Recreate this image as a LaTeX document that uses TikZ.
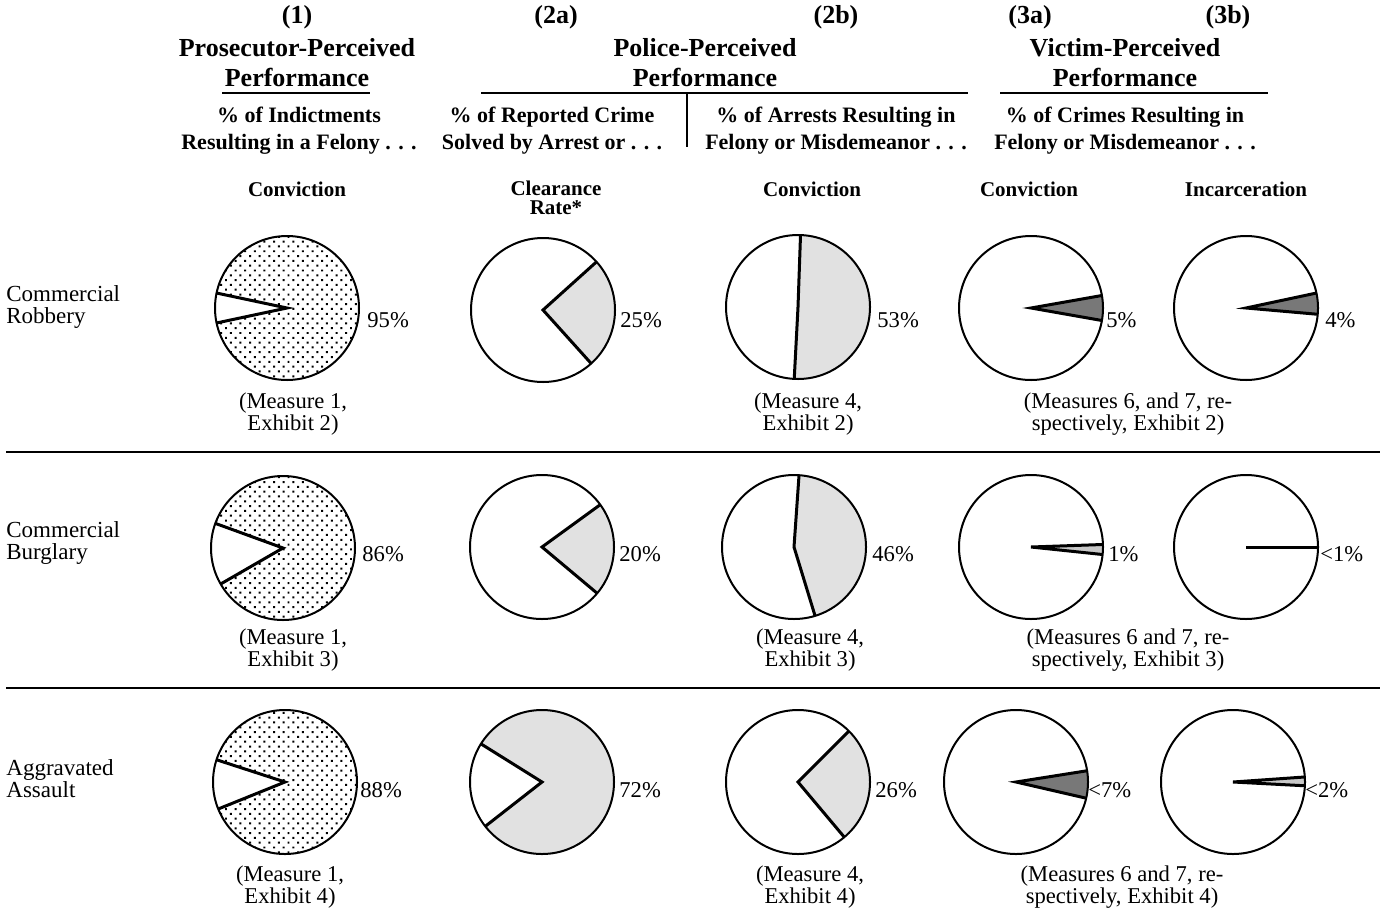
\documentclass[tikz,border=0pt]{standalone}
\usepackage{fontspec}
\setmainfont{Liberation Serif}
\usetikzlibrary{patterns.meta}
\definecolor{lStip}{RGB}{225,225,225}
\definecolor{dStip}{RGB}{120,120,120}
\definecolor{pStip}{RGB}{200,200,200}

% pie: centre, start angle, end angle, wedge fill, rest fill
\newcommand{\pie}[5]{%
  \fill[#5] (#1) circle (72);
  \fill[#4] (#1) -- ++(#2:72) arc[start angle=#2, end angle=#3, radius=72] -- cycle;
  \draw[EDGE] (#1) ++(#2:72) -- (#1) -- ++(#3:72);
  \draw[RIM] (#1) circle (72);
}

\begin{document}
\begin{tikzpicture}[x=0.5pt, y=0.5pt,
    HEAD/.style={font=\fontsize{13}{15}\selectfont\bfseries, align=center, inner sep=0pt},
    SUB/.style={font=\fontsize{11}{13.5}\selectfont\bfseries, align=center, inner sep=0pt},
    COL/.style={font=\fontsize{10.5}{9.5}\selectfont\bfseries, align=center, inner sep=0pt},
    ROW/.style={font=\fontsize{11.5}{11}\selectfont, align=left, anchor=west, inner sep=0pt},
    CAP/.style={font=\fontsize{11.3}{10.2}\selectfont, align=center, inner sep=0pt},
    PCT/.style={font=\fontsize{11.3}{13}\selectfont, anchor=west, inner sep=0pt},
    RULE/.style={line width=0.8pt},
    RIM/.style={line width=1pt},
    EDGE/.style={line width=1.5pt, line join=miter},
    DOTS/.style={pattern={Dots[distance=3.4pt, angle=45, radius=0.7pt]}, pattern color=black},
    WHITE/.style={fill=white},
    NONE/.style={fill=none},
    LIGHT/.style={fill=lStip},
    DARK/.style={fill=dStip},
    PALE/.style={fill=pStip}]
\useasboundingbox (0,0) rectangle (1380,-910);

% column headings
\node[HEAD] (n1)  at (297,-17)  {(1)};
\node[HEAD] (n2a) at (556,-17)  {(2a)};
\node[HEAD] (n2b) at (836,-17)  {(2b)};
\node[HEAD] (n3a) at (1030,-17) {(3a)};
\node[HEAD] (n3b) at (1228,-17) {(3b)};
\node[HEAD] (pros) at (297,-63)  {Prosecutor-Perceived\\Performance};
\node[HEAD] (pol)  at (705,-63)  {Police-Perceived\\Performance};
\node[HEAD] (vic)  at (1125,-63) {Victim-Perceived\\Performance};
\draw[RULE] (222,-93) -- (370,-93);
\draw[RULE] (481,-93) -- (968,-93);
\draw[RULE] (1000,-93) -- (1268,-93);
\draw[RULE] (687,-93) -- (687,-147);
\node[SUB] (s1)  at (299,-131)  {\% of Indictments\\Resulting in a Felony . . .};
\node[SUB] (s2a) at (552,-131)  {\% of Reported Crime\\Solved by Arrest or . . .};
\node[SUB] (s2b) at (836,-131)  {\% of Arrests Resulting in\\Felony or Misdemeanor . . .};
\node[SUB] (s3)  at (1125,-131) {\% of Crimes Resulting in\\Felony or Misdemeanor . . .};
\node[COL] (c1)  at (297,-189)  {Conviction};
\node[COL] (c2a) at (556,-198)  {Clearance\\Rate*};
\node[COL] (c2b) at (812,-189)  {Conviction};
\node[COL] (c3a) at (1029,-189) {Conviction};
\node[COL] (c3b) at (1246,-189) {Incarceration};

% rows
\node[ROW] (rob) at (6,-307) {Commercial\\Robbery};
\node[ROW] (bur) at (6,-543) {Commercial\\Burglary};
\node[ROW] (ass) at (6,-779) {Aggravated\\Assault};
\draw[RULE] (6,-452) -- (1380,-452);
\draw[RULE] (6,-688) -- (1380,-688);

% commercial robbery
\coordinate (p11) at (287,-308);
\coordinate (p12) at (543,-310);
\coordinate (p13) at (798,-307);
\coordinate (p14) at (1031,-308);
\coordinate (p15) at (1246,-308);
\pie{p11}{168}{192}{WHITE}{DOTS}
\pie{p12}{-48}{42}{LIGHT}{NONE}
\pie{p13}{-93}{88}{LIGHT}{NONE}
\pie{p14}{-10}{10}{DARK}{NONE}
\pie{p15}{-5}{12}{DARK}{NONE}
\node[PCT] (v11) at (367,-320)  {95\%};
\node[PCT] (v12) at (620,-320)  {25\%};
\node[PCT] (v13) at (877,-320)  {53\%};
\node[PCT] (v14) at (1106,-320) {5\%};
\node[PCT] (v15) at (1325,-320) {4\%};
\node[CAP] (m11) at (293,-414)  {(Measure 1,\\Exhibit 2)};
\node[CAP] (m13) at (808,-414)  {(Measure 4,\\Exhibit 2)};
\node[CAP] (m14) at (1128,-414) {(Measures 6, and 7, re-\\spectively, Exhibit 2)};

% commercial burglary
\coordinate (p21) at (283,-548);
\coordinate (p22) at (542,-547);
\coordinate (p23) at (794,-547);
\coordinate (p24) at (1031,-547);
\coordinate (p25) at (1246,-547);
\pie{p21}{160}{210}{WHITE}{DOTS}
\pie{p22}{-40}{36}{LIGHT}{NONE}
\pie{p23}{-73}{86}{LIGHT}{NONE}
\pie{p24}{-6}{2}{PALE}{NONE}
\pie{p25}{0}{0}{NONE}{NONE}
\node[PCT] (v21) at (362,-554)  {86\%};
\node[PCT] (v22) at (619,-554)  {20\%};
\node[PCT] (v23) at (872,-554)  {46\%};
\node[PCT] (v24) at (1108,-554) {1\%};
\node[PCT] (v25) at (1320,-554) {<1\%};
\node[CAP] (m21) at (293,-650)  {(Measure 1,\\Exhibit 3)};
\node[CAP] (m23) at (810,-650)  {(Measure 4,\\Exhibit 3)};
\node[CAP] (m24) at (1128,-650) {(Measures 6 and 7, re-\\spectively, Exhibit 3)};

% aggravated assault
\coordinate (p31) at (285,-782);
\coordinate (p32) at (542,-782);
\coordinate (p33) at (798,-782);
\coordinate (p34) at (1016,-782);
\coordinate (p35) at (1233,-782);
\pie{p31}{162}{202}{WHITE}{DOTS}
\pie{p32}{148}{218}{WHITE}{LIGHT}
\pie{p33}{-50}{45}{LIGHT}{NONE}
\pie{p34}{-13}{9}{DARK}{NONE}
\pie{p35}{-3}{4}{PALE}{NONE}
\node[PCT] (v31) at (360,-790)  {88\%};
\node[PCT] (v32) at (619,-790)  {72\%};
\node[PCT] (v33) at (875,-790)  {26\%};
\node[PCT] (v34) at (1088,-790) {<7\%};
\node[PCT] (v35) at (1305,-790) {<2\%};
\node[CAP] (m31) at (290,-887)  {(Measure 1,\\Exhibit 4)};
\node[CAP] (m33) at (810,-887)  {(Measure 4,\\Exhibit 4)};
\node[CAP] (m34) at (1122,-887) {(Measures 6 and 7, re-\\spectively, Exhibit 4)};
\end{tikzpicture}
\end{document}
